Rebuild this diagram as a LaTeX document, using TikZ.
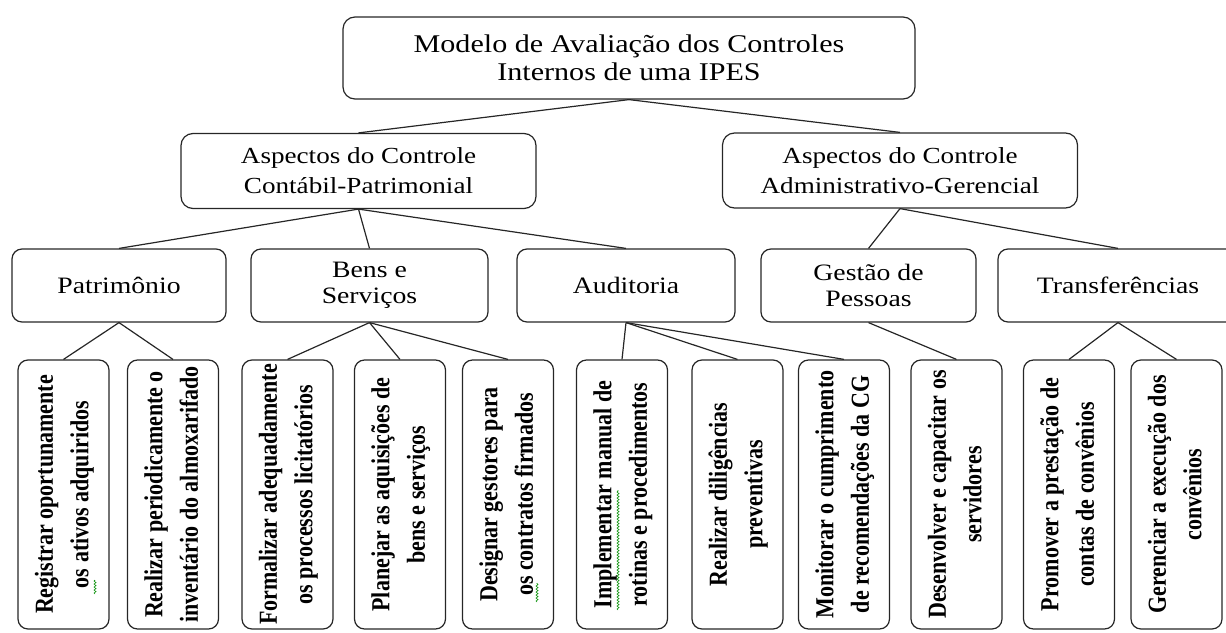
\documentclass[tikz,border=0pt]{standalone}
\usepackage{fontspec}
\setmainfont{Liberation Serif}
\newfontfamily\widefont[FakeStretch=1.18]{Liberation Serif}
\usetikzlibrary{decorations.pathmorphing}
\newcommand{\leaftext}[2]{\scalebox{1.18}[1]{\rotatebox{90}{\fontsize{22}{30}\selectfont\bfseries\begin{tabular}{@{}c@{}}#1\\#2\end{tabular}}}}
\begin{document}
\begin{tikzpicture}[x=1pt,y=-1pt,
  box/.style={draw=black!85, line width=1.2pt, inner sep=0pt, align=center, text=black},
  toplvl/.style={box, rounded corners=12pt, font=\widefont\fontsize{25.5}{28}\selectfont},
  midlvl/.style={box, rounded corners=12pt, minimum width=355pt, minimum height=75pt, font=\widefont\fontsize{23}{30}\selectfont},
  grplvl/.style={box, rounded corners=10pt, minimum height=73pt, font=\widefont\fontsize{23.5}{25.5}\selectfont},
  leaf/.style={box, rounded corners=10pt, minimum width=91pt, minimum height=269pt},
  link/.style={draw=black!85, line width=1.2pt},
  squig/.style={draw=green!55!black, line width=0.6pt, decorate, decoration={snake, amplitude=1pt, segment length=3pt}}
]
\useasboundingbox (0,0) rectangle (1226,632);
\clip (0,0) rectangle (1226,632);
% level 1
\node[toplvl, minimum width=572pt, minimum height=82pt] (top) at (629,58) {Modelo de Avaliação dos Controles\\Internos de uma IPES};
% level 2
\node[midlvl] (cp) at (358.5,171) {Aspectos do Controle\\Contábil-Patrimonial};
\node[midlvl] (ag) at (900,170.5) {Aspectos do Controle\\Administrativo-Gerencial};
% level 3
\node[grplvl, minimum width=214pt] (pat) at (119,285.5) {Patrimônio};
\node[grplvl, minimum width=237pt] (bens) at (369.5,285.5) {Bens e\\Serviços};
\node[grplvl, minimum width=218pt] (aud) at (626,285.5) {Auditoria};
\node[grplvl, minimum width=215pt] (gest) at (868.5,285.5) {Gestão de\\Pessoas};
\node[grplvl, minimum width=240pt] (transf) at (1118,285.5) {Transferências};
% leaves
\node[leaf] (l1) at (63.5,494.5) {\leaftext{Registrar oportunamente}{os ativos adquiridos}};
\node[leaf] (l2) at (173,494.5) {\leaftext{Realizar periodicamente o}{inventário do almoxarifado}};
\node[leaf] (l3) at (287.5,494.5) {\leaftext{Formalizar adequadamente}{os processos licitatórios}};
\node[leaf] (l4) at (400,494.5) {\leaftext{Planejar as aquisições de}{bens e serviços}};
\node[leaf] (l5) at (508,494.5) {\leaftext{Designar gestores para}{os contratos firmados}};
\node[leaf] (l6) at (622,494.5) {\leaftext{Implementar manual de}{rotinas e procedimentos}};
\node[leaf] (l7) at (737.5,494.5) {\leaftext{Realizar diligências}{preventivas}};
\node[leaf] (l8) at (844,494.5) {\leaftext{Monitorar o cumprimento}{de recomendações da CG}};
\node[leaf] (l9) at (956.5,494.5) {\leaftext{Desenvolver e capacitar os}{servidores}};
\node[leaf] (l10) at (1069,494.5) {\leaftext{Promover a prestação de}{contas de convênios}};
\node[leaf] (l11) at (1176.5,494.5) {\leaftext{Gerenciar a execução dos}{convênios}};
% connectors
\draw[link] (top.south) -- (cp.north);
\draw[link] (top.south) -- (ag.north);
\draw[link] (cp.south) -- (pat.north);
\draw[link] (cp.south) -- (bens.north);
\draw[link] (cp.south) -- (aud.north);
\draw[link] (ag.south) -- (gest.north);
\draw[link] (ag.south) -- (transf.north);
\draw[link] (pat.south) -- (l1.north);
\draw[link] (pat.south) -- (l2.north);
\draw[link] (bens.south) -- (l3.north);
\draw[link] (bens.south) -- (l4.north);
\draw[link] (bens.south) -- (l5.north);
\draw[link] (aud.south) -- (l6.north);
\draw[link] (aud.south) -- (l7.north);
\draw[link] (aud.south) -- (l8.north);
\draw[link] (gest.south) -- (l9.north);
\draw[link] (transf.south) -- (l10.north);
\draw[link] (transf.south) -- (l11.north);
% spell-check marks
\draw[squig] (95,594) -- (95,580);
\draw[squig] (537,602) -- (537,583);
\draw[squig] (618,610) -- (618,490);
\end{tikzpicture}
\end{document}
